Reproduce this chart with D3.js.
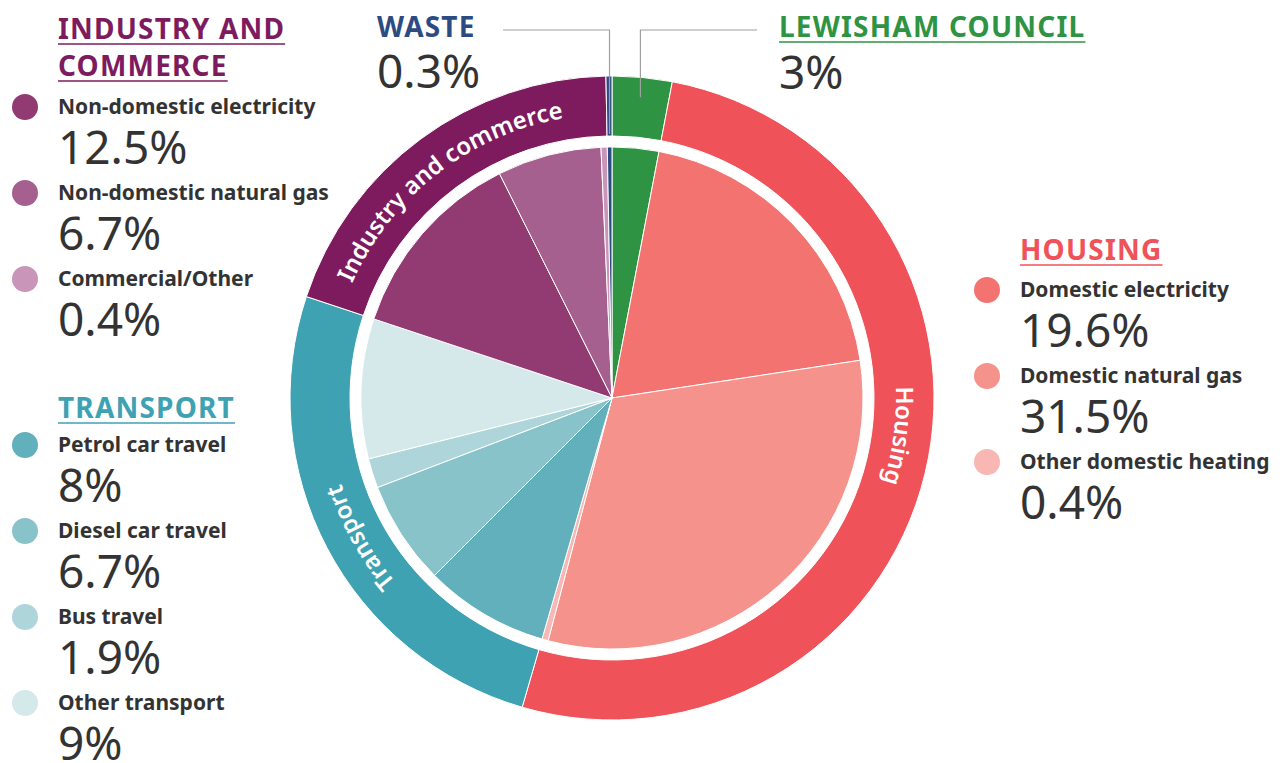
<!DOCTYPE html>
<html>
<head>
<meta charset="utf-8">
<script src="https://cdn.jsdelivr.net/npm/d3@7"></script>
<style>
  body { margin: 0; background: #fff; }
  text { font-family: "Noto Sans", "Open Sans", sans-serif; }
</style>
</head>
<body>
<div id="chart"></div>
<script>
const width = 1286,
    height = 763;

// sectors (outer ring), in clockwise order from the top
const sectorNames = ['LEWISHAM COUNCIL', 'HOUSING', 'TRANSPORT', 'INDUSTRY AND COMMERCE', 'WASTE'];
const sectorRingLabels = ['', 'Housing', 'Transport', 'Industry and commerce', ''];
const sectorColors = ['#2e9444', '#ef5259', '#3ea2b2', '#7d1b5e', '#2c4b82'];

// items (inner pie), same order
const itemNames = ['Lewisham Council', 'Domestic electricity', 'Domestic natural gas', 'Other domestic heating',
    'Petrol car travel', 'Diesel car travel', 'Bus travel', 'Other transport',
    'Non-domestic electricity', 'Non-domestic natural gas', 'Commercial/Other', 'Waste'];
const itemValues = [3, 19.6, 31.5, 0.4, 8, 6.7, 1.9, 9, 12.5, 6.7, 0.4, 0.3];
const itemLabels = ['3%', '19.6%', '31.5%', '0.4%', '8%', '6.7%', '1.9%', '9%', '12.5%', '6.7%', '0.4%', '0.3%'];
const itemSector = [0, 1, 1, 1, 2, 2, 2, 2, 3, 3, 3, 4];
const itemColors = ['#2e9444', '#f37370', '#f5928c', '#f8b7b2',
    '#62b0bc', '#89c3ca', '#aed6da', '#d5e9eb',
    '#923a72', '#a66090', '#c995b8', '#2c4b82'];

const cx = 612, cy = 398;
const rOuter = 322, rRing = 262, rPie = 251;

const svg = d3.select('#chart')
    .append('svg')
    .attr('width', width)
    .attr('height', height);

const items = itemNames.map(function(n, i) {
    return { name: n, value: itemValues[i], label: itemLabels[i], sector: itemSector[i], color: itemColors[i] };
});

// sector totals
const sectors = sectorNames.map(function(n, i) {
    return {
        name: n,
        ring: sectorRingLabels[i],
        color: sectorColors[i],
        value: d3.sum(items.filter(d => d.sector === i), d => d.value)
    };
});

const pie = d3.pie().sort(null).value(d => d.value);

const g = svg.append('g').attr('transform', `translate(${cx},${cy})`);

// inner pie
const arcPie = d3.arc().innerRadius(0).outerRadius(rPie);
g.selectAll('path.item')
    .data(pie(items))
    .enter()
    .append('path')
    .attr('class', 'item')
    .attr('d', arcPie)
    .attr('fill', d => d.data.color)
    .attr('stroke', '#fff')
    .attr('stroke-width', 1);

// outer ring
const arcRing = d3.arc().innerRadius(rRing).outerRadius(rOuter);
const ringArcs = pie(sectors);
g.selectAll('path.sector')
    .data(ringArcs)
    .enter()
    .append('path')
    .attr('class', 'sector')
    .attr('d', arcRing)
    .attr('fill', d => d.data.color)
    .attr('stroke', '#fff')
    .attr('stroke-width', 1);

// curved labels in the ring
const labelAngle = { 'Housing': 97.5, 'Transport': 241, 'Industry and commerce': 322 };
const rText = 284;
function pt(a, r) {
    const rad = a * Math.PI / 180;
    return [r * Math.sin(rad), -r * Math.cos(rad)];
}
const defs = svg.append('defs');
ringArcs.filter(d => d.data.ring).forEach(function(d, i) {
    const a = labelAngle[d.data.ring];
    const p0 = pt(a - 80, rText), p1 = pt(a + 80, rText);
    defs.append('path')
        .attr('id', 'ringpath' + i)
        .attr('d', `M${p0[0] + cx},${p0[1] + cy} A${rText},${rText} 0 0 1 ${p1[0] + cx},${p1[1] + cy}`);
    svg.append('text')
        .attr('fill', '#fff')
        .attr('font-size', 24)
        .attr('font-weight', 600)
        .append('textPath')
        .attr('href', '#ringpath' + i)
        .attr('startOffset', '50%')
        .attr('text-anchor', 'middle')
        .text(d.data.ring);
});

// leader lines for the two small sectors
function leader(sectorIdx, xText, yLine, rEnd) {
    const d = ringArcs[sectorIdx];
    const mid = (d.startAngle + d.endAngle) / 2 * 180 / Math.PI;
    const p = pt(mid, rEnd);
    svg.append('polyline')
        .attr('points', `${xText},${yLine} ${p[0] + cx},${yLine} ${p[0] + cx},${p[1] + cy}`)
        .attr('fill', 'none')
        .attr('stroke', '#a0a0a0')
        .attr('stroke-width', 1.2);
}
leader(4, 503, 30, rRing + 2);
leader(0, 757, 30, 302);

// legends
const labelColor = '#333';
function title(x, lines, y0, color, underline) {
    lines.forEach(function(t, i) {
        const tx = svg.append('text')
            .attr('x', x)
            .attr('y', y0 + i * 37)
            .attr('font-size', 28)
            .attr('font-weight', 700)
            .attr('letter-spacing', 1.2)
            .attr('fill', color)
            .text(t);
        if (underline) {
            const w = tx.node().getComputedTextLength();
            svg.append('line')
                .attr('x1', x).attr('x2', x + w)
                .attr('y1', y0 + i * 37 + 5).attr('y2', y0 + i * 37 + 5)
                .attr('stroke', color)
                .attr('stroke-opacity', 0.75)
                .attr('stroke-width', 2);
        }
    });
}
function legendItems(x, y0, list) {
    list.forEach(function(d, i) {
        const y = y0 + i * 86;
        svg.append('circle')
            .attr('cx', x - 33).attr('cy', y).attr('r', 13)
            .attr('fill', d.color);
        svg.append('text')
            .attr('x', x).attr('y', y + 7)
            .attr('font-size', 21)
            .attr('font-weight', 700)
            .attr('fill', labelColor)
            .text(d.name);
        svg.append('text')
            .attr('x', x).attr('y', y + 57)
            .attr('font-size', 46)
            .attr('fill', labelColor)
            .text(d.label);
    });
}

title(58, ['INDUSTRY AND', 'COMMERCE'], 39, sectorColors[3], true);
legendItems(58, 107, items.filter(d => d.sector === 3));

title(58, ['TRANSPORT'], 418, sectorColors[2], true);
legendItems(58, 445, items.filter(d => d.sector === 2));

title(1020, ['HOUSING'], 260, sectorColors[1], true);
legendItems(1020, 290, items.filter(d => d.sector === 1));

title(377, ['WASTE'], 37, sectorColors[4], false);
svg.append('text').attr('x', 377).attr('y', 88).attr('font-size', 46).attr('fill', labelColor)
    .text(items[11].label);

title(779, ['LEWISHAM COUNCIL'], 37, sectorColors[0], true);
svg.append('text').attr('x', 779).attr('y', 89).attr('font-size', 46).attr('fill', labelColor)
    .text(items[0].label);
</script>
</body>
</html>
